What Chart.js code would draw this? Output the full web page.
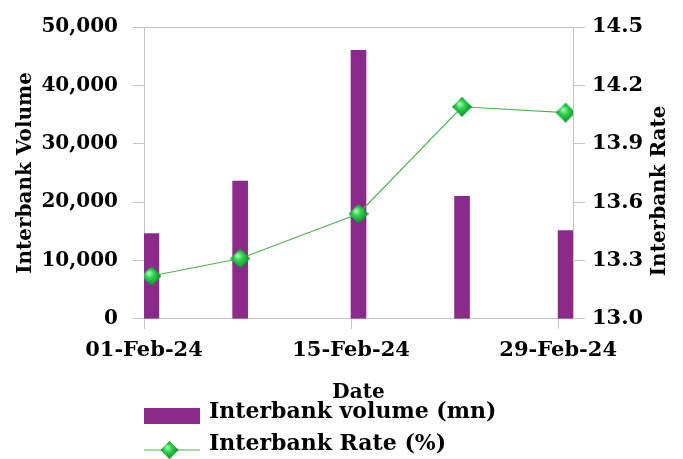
<!DOCTYPE html>
<html>
<head>
<meta charset="utf-8">
<script src="https://cdn.jsdelivr.net/npm/chart.js@4/dist/chart.umd.min.js"></script>
<style>
  html, body { margin: 0; padding: 0; background: #ffffff; }
  #wrap { width: 683px; height: 459px; }
</style>
</head>
<body>
<div id="wrap"><canvas id="chart" width="683" height="459"></canvas></div>
<script>
// Interbank market, February 2024
const dates = ['2024-02-01', '2024-02-07', '2024-02-15', '2024-02-22', '2024-02-29'];
const volume = [14600, 23600, 46000, 21000, 15100];   // mn
const rate = [13.22, 13.31, 13.54, 14.09, 14.06];     // %
const tickDates = ['2024-02-01', '2024-02-15', '2024-02-29'];
const tickLabels = ['01-Feb-24', '15-Feb-24', '29-Feb-24'];
const axisStart = '2024-02-01';
const axisEnd = '2024-03-01';

const DAY = 86400000;
const dayOf = d => (Date.parse(d) - Date.parse(axisStart)) / DAY;
// each date occupies one day-wide slot; marks sit in the middle of it
const slot = d => dayOf(d) + 0.5;

const PURPLE = '#8c2a8c';
const GREEN_LINE = '#4fb44f';
const AXIS_GREY = '#c4c4c4';
const FONT = "'DejaVu Serif', 'Liberation Serif', serif";

// shaded green diamond marker
function diamond(ctx, cx, cy, r) {
  ctx.beginPath();
  ctx.moveTo(cx, cy - r);
  ctx.lineTo(cx + r, cy);
  ctx.lineTo(cx, cy + r);
  ctx.lineTo(cx - r, cy);
  ctx.closePath();
  const g = ctx.createRadialGradient(cx - r * 0.25, cy - r * 0.3, 1, cx, cy, r * 1.05);
  g.addColorStop(0, '#9cf7a8');
  g.addColorStop(0.35, '#2fd04e');
  g.addColorStop(0.75, '#13a432');
  g.addColorStop(1, '#0a6e20');
  ctx.fillStyle = g;
  ctx.fill();
}

function makeMarker() {
  const c = document.createElement('canvas');
  c.width = 20; c.height = 20;
  diamond(c.getContext('2d'), 10, 10, 10);
  return c;
}

// legend icons: content spans [0, span] horizontally; extra transparent
// room on the right / top shifts the icon relative to the label slot
function makeLegendIcon(kind, w, span, h, dy) {
  const c = document.createElement('canvas');
  c.width = w; c.height = h;
  const ctx = c.getContext('2d');
  const cy = h / 2 + dy;
  if (kind === 'bar') {
    ctx.fillStyle = PURPLE;
    ctx.fillRect(0, cy - 8, span, 16);
  } else {
    ctx.strokeStyle = GREEN_LINE;
    ctx.lineWidth = 1.2;
    ctx.beginPath();
    ctx.moveTo(0, cy);
    ctx.lineTo(span, cy);
    ctx.stroke();
    diamond(ctx, span / 2, cy, 9);
  }
  return c;
}

const marker = makeMarker();
const legendIcons = [
  makeLegendIcon('bar', 74, 61, 34, 4),
  makeLegendIcon('line', 74, 61, 34, 6)
];

const rightTitle = {
  id: 'rightTitle',
  afterDraw(chart, args, opts) {
    const { ctx, chartArea } = chart;
    ctx.save();
    ctx.font = 'bold ' + opts.size + 'px ' + FONT;
    ctx.fillStyle = '#000';
    ctx.textAlign = 'center';
    ctx.textBaseline = 'middle';
    ctx.translate(chart.width - opts.inset, (chartArea.top + chartArea.bottom) / 2 + opts.shift);
    ctx.rotate(-Math.PI / 2);
    ctx.fillText(opts.text, 0, 0);
    ctx.restore();
  }
};

Chart.defaults.font.family = FONT;
Chart.defaults.font.weight = 'bold';
Chart.defaults.color = '#000';

new Chart(document.getElementById('chart'), {
  data: {
    datasets: [
      {
        type: 'bar',
        label: 'Interbank volume (mn)',
        data: dates.map((d, i) => ({ x: slot(d), y: volume[i] })),
        backgroundColor: PURPLE,
        borderWidth: 0,
        barThickness: 15,
        yAxisID: 'y',
        order: 1
      },
      {
        type: 'line',
        label: 'Interbank Rate (%)',
        data: dates.map((d, i) => ({ x: slot(d), y: rate[i] })),
        borderColor: GREEN_LINE,
        borderWidth: 1.2,
        pointStyle: marker,
        pointRadius: 10,
        tension: 0,
        yAxisID: 'y1',
        order: 0
      }
    ]
  },
  options: {
    responsive: false,
    animation: false,
    events: [],
    layout: { padding: { top: 12, right: 36, bottom: -6, left: 0 } },
    scales: {
      x: {
        type: 'linear',
        offset: false,
        min: dayOf(axisStart),
        max: dayOf(axisEnd),
        afterBuildTicks: scale => {
          scale.ticks = tickDates.map(d => ({ value: dayOf(d) }));
        },
        ticks: {
          autoSkip: false,
          maxRotation: 0,
          padding: 9,
          font: { size: 21, weight: 'bold' },
          callback: (v, i) => tickLabels[i]
        },
        grid: { offset: false, drawOnChartArea: false, tickLength: 10, tickColor: AXIS_GREY },
        border: { color: AXIS_GREY },
        title: {
          display: true,
          text: 'Date',
          font: { size: 20, weight: 'bold' },
          padding: { top: 9, bottom: -14 }
        }
      },
      y: {
        position: 'left',
        min: 0,
        max: 50000,
        afterFit: scale => { scale.width = 144; },
        ticks: {
          stepSize: 10000,
          padding: 15,
          font: { size: 20, weight: 'bold' },
          callback: v => v.toLocaleString('en-US')
        },
        grid: {
          color: c => (c.tick && c.tick.value === 50000 ? AXIS_GREY : 'rgba(0,0,0,0)'),
          tickColor: AXIS_GREY,
          tickLength: 11
        },
        border: { color: AXIS_GREY },
        title: {
          display: true,
          text: 'Interbank Volume',
          font: { size: 20, weight: 'bold' },
          padding: { top: 14, bottom: 0 }
        }
      },
      y1: {
        position: 'right',
        min: 13,
        max: 14.5,
        afterFit: scale => { scale.width = 74; },
        ticks: {
          stepSize: 0.3,
          padding: 7,
          font: { size: 21, weight: 'bold' },
          callback: v => Number(v).toFixed(1)
        },
        grid: { drawOnChartArea: false, tickColor: AXIS_GREY, tickLength: 12 },
        border: { color: AXIS_GREY }
      }
    },
    plugins: {
      tooltip: { enabled: false },
      rightTitle: { text: 'Interbank Rate', size: 20, inset: 23, shift: 18 },
      legend: {
        position: 'bottom',
        align: 'start',
        fullSize: false,
        labels: {
          usePointStyle: true,
          pointStyleWidth: 44,
          padding: 10,
          color: '#000',
          font: { size: 22, weight: 'bold' },
          sort: (a, b) => a.datasetIndex - b.datasetIndex,
          generateLabels: chart => {
            const items = Chart.defaults.plugins.legend.labels.generateLabels(chart);
            items.forEach(it => { it.pointStyle = legendIcons[it.datasetIndex]; });
            return items;
          }
        }
      }
    }
  },
  plugins: [rightTitle]
});
</script>
</body>
</html>
